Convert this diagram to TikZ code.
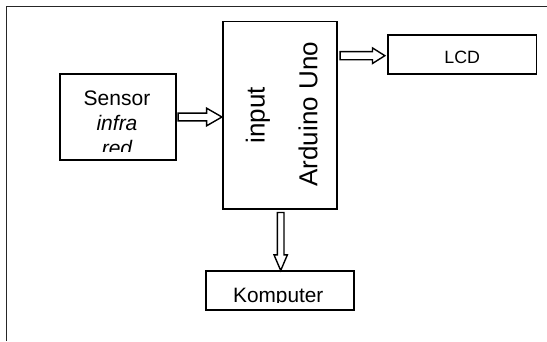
\documentclass[tikz,border=0pt]{standalone}
\usepackage{fontspec}
\setmainfont{Liberation Sans}
\usetikzlibrary{calc}
\begin{document}
\begin{tikzpicture}[x=1pt,y=1pt,
  boxnode/.style={draw, line width=1.6pt, inner sep=0pt},
  blk/.style={draw, line width=1.4pt, fill=white, line join=miter},
  frameline/.style={line width=1.8pt, draw=black!85},
  txt/.style={inner sep=0pt}]
\useasboundingbox (0,0) rectangle (547,341);
% frame (only top and left visible)
\draw[frameline] (6.5,0) coordinate (fbl) -- (6.5,334.5) coordinate (ftl) -- (547,334.5) coordinate (ftr);
% boxes
\node[boxnode, minimum width=115.7pt, minimum height=86pt] (sensor) at (117.9,224) {};
\node[boxnode, minimum width=114.3pt, minimum height=187.3pt] (ardu) at (279.9,225.7) {};
\node[boxnode, minimum width=148.7pt, minimum height=39pt] (lcd) at (462.3,286.5) {};
\node[boxnode, minimum width=148.3pt, minimum height=39pt] (komp) at (279.9,50.5) {};
% texts
\begin{scope}
\clip ($(sensor.south west)+(1,9.5)$) rectangle ($(sensor.north east)+(-1,-1)$);
\node[txt, anchor=base] (senstxt1) at (117,235.5) {\fontsize{21}{24}\selectfont Sensor};
\node[txt, anchor=base] (senstxt2) at (117,210.5) {\fontsize{21}{24}\selectfont\itshape infra};
\node[txt, anchor=base] (senstxt3) at (117,185.6) {\fontsize{21}{24}\selectfont\itshape red};
\end{scope}
\node[txt, anchor=base, rotate=90] (ardtxt1) at (264.7,225.7) {\fontsize{26}{30}\selectfont input};
\node[txt, anchor=base, rotate=90] (ardtxt2) at (317.4,226.8) {\fontsize{26}{30}\selectfont Arduino Uno};
\node[txt, anchor=base] (lcdtxt) at (462.2,277.7) {\fontsize{17.8}{20}\selectfont LCD};
\begin{scope}
\clip ($(komp.south west)+(1,8.5)$) rectangle ($(komp.north east)+(-1,-1)$);
\node[txt, anchor=base] (komptxt) at (278.3,38.5) {\fontsize{20.8}{24}\selectfont Komputer};
\end{scope}
% arrow sensor -> arduino
\coordinate (a1s) at ($(sensor.east)+(1.5,0)$);
\coordinate (a1e) at (ardu.west |- a1s);
\draw[blk] ($(a1s)+(0,3.9)$) -- ($(a1e)+(-15.3,3.9)$) -- ($(a1e)+(-15.3,8.8)$) -- (a1e)
  -- ($(a1e)+(-15.3,-8.8)$) -- ($(a1e)+(-15.3,-3.9)$) -- ($(a1s)+(0,-3.9)$) -- cycle;
% arrow arduino -> lcd
\coordinate (a2s) at ($(ardu.east |- lcd.west)+(2.3,-1.2)$);
\coordinate (a2e) at ($(lcd.west)+(-2.3,-1.2)$);
\draw[blk] ($(a2s)+(0,4.1)$) -- ($(a2e)+(-12.4,4.1)$) -- ($(a2e)+(-12.4,7.8)$) -- (a2e)
  -- ($(a2e)+(-12.4,-7.8)$) -- ($(a2e)+(-12.4,-4.1)$) -- ($(a2s)+(0,-4.1)$) -- cycle;
% arrow arduino -> komputer
\coordinate (a3s) at ($(ardu.south)+(0.8,-2.7)$);
\coordinate (a3e) at ($(komp.north)+(0.8,-0.3)$);
\draw[blk] ($(a3s)+(-3.3,0)$) -- ($(a3e)+(-3.3,15.7)$) -- ($(a3e)+(-6.7,15.7)$) -- (a3e)
  -- ($(a3e)+(6.7,15.7)$) -- ($(a3e)+(3.3,15.7)$) -- ($(a3s)+(3.3,0)$) -- cycle;
\end{tikzpicture}
\end{document}
